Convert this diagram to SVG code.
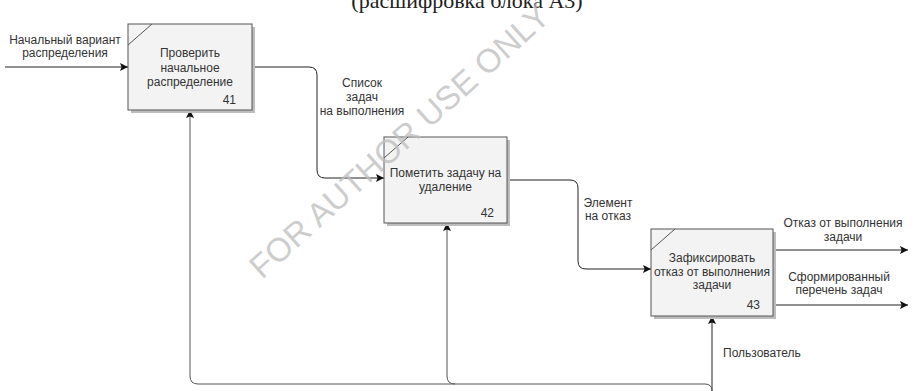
<svg xmlns="http://www.w3.org/2000/svg" width="914" height="391" viewBox="0 0 914 391">
<defs>
<marker id="arr" viewBox="0 0 10 10" refX="10" refY="5" markerWidth="8" markerHeight="8" markerUnits="userSpaceOnUse" orient="auto">
<path d="M0,0 L10,5 L0,10 L2,5 Z" fill="#111"/>
</marker>
<style>
.box{fill:#f3f3f3;stroke:#555;stroke-width:1}
.sh{fill:#bdbdbd}
.diag{stroke:#555;stroke-width:1;fill:none}
.t{font-family:"Liberation Sans",Arial,sans-serif;font-size:12px;fill:#333;text-anchor:middle}
.n{font-family:"Liberation Sans",Arial,sans-serif;font-size:12px;fill:#333;text-anchor:end}
.c{fill:none;stroke:#222;stroke-width:1}
.fb{fill:none;stroke:#555;stroke-width:1}
</style>
</defs>
<rect width="914" height="391" fill="#fff"/>
<text x="467" y="8" font-family="'Liberation Serif','Times New Roman',serif" font-size="22" fill="#222" text-anchor="middle">(расшифровка блока А3)</text>
<g id="connectors">
<path class="c" d="M5,67 H128" marker-end="url(#arr)"/>
<path class="c" d="M252,67 H309 Q317,67 317,75 V170 Q317,178 325,178 H384" marker-end="url(#arr)"/>
<path class="c" d="M507,180 H570 Q578,180 578,188 V261 Q578,269 586,269 H651" marker-end="url(#arr)"/>
<path class="c" d="M773,250 H908" marker-end="url(#arr)"/>
<path class="c" d="M773,305 H908" marker-end="url(#arr)"/>
<path class="c" d="M712,391 V316" marker-end="url(#arr)"/>
<path class="fb" d="M712,391 Q712,384 705,384 H198 Q190,384 190,376 V110" marker-end="url(#arr)"/>
<path class="fb" d="M455,384 Q447,384 447,376 V223" marker-end="url(#arr)"/>
<text class="t" x="65" y="44">Начальный вариант</text>
<text class="t" x="65" y="57">распределения</text>
<text class="t" x="362" y="87">Список</text>
<text class="t" x="362" y="101">задач</text>
<text class="t" x="362" y="115">на выполнения</text>
<text class="t" x="608" y="207">Элемент</text>
<text class="t" x="608" y="220">на отказ</text>
<text class="t" x="843" y="227">Отказ от выполнения</text>
<text class="t" x="843" y="241">задачи</text>
<text class="t" x="839" y="281">Сформированный</text>
<text class="t" x="839" y="294">перечень задач</text>
<text x="723" y="357" font-family="'Liberation Sans',Arial,sans-serif" font-size="12" fill="#333">Пользователь</text>
</g>
<g id="node41">
<rect class="sh" x="131" y="27" width="124" height="86"/>
<rect class="box" x="128" y="24" width="124" height="86"/>
<line class="diag" x1="128" y1="45" x2="152" y2="24"/>
<text class="t" x="190" y="57">Проверить</text>
<text class="t" x="190" y="72">начальное</text>
<text class="t" x="190" y="86">распределение</text>
<text class="n" x="236" y="104">41</text>
</g>
<g id="node42">
<rect class="sh" x="387" y="140" width="123" height="86"/>
<rect class="box" x="384" y="137" width="123" height="86"/>
<line class="diag" x1="384" y1="158" x2="408" y2="137"/>
<text class="t" x="445.5" y="177">Пометить задачу на</text>
<text class="t" x="445.5" y="191">удаление</text>
<text class="n" x="494" y="217">42</text>
</g>
<g id="node43">
<rect class="sh" x="654" y="232" width="122" height="87"/>
<rect class="box" x="651" y="229" width="122" height="87"/>
<line class="diag" x1="651" y1="250" x2="675" y2="229"/>
<text class="t" x="712" y="262">Зафиксировать</text>
<text class="t" x="712" y="276">отказ от выполнения</text>
<text class="t" x="712" y="289">задачи</text>
<text class="n" x="760" y="309">43</text>
</g>
<text x="262" y="280" transform="rotate(-42 262 280)" font-family="'Liberation Sans',Arial,sans-serif" font-size="33" fill="#bdbdbd" fill-opacity="0.75">FOR AUTHOR USE ONLY</text>
</svg>
